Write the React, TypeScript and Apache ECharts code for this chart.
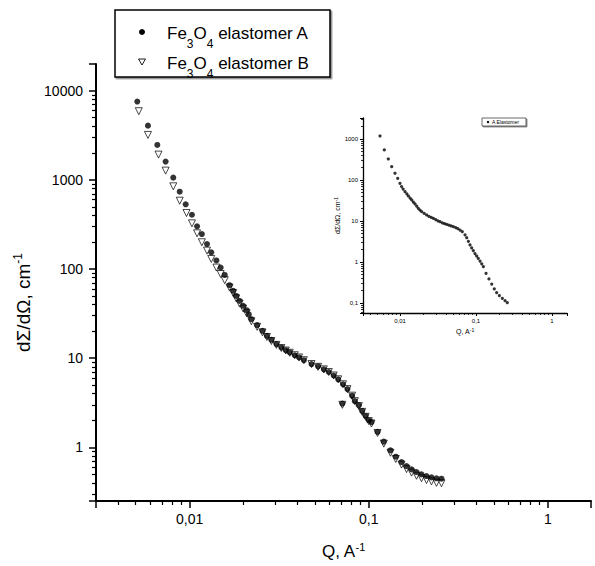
import React, { useEffect, useRef } from 'react';
import * as echarts from 'echarts';

// Main chart, series A (Fe3O4 elastomer A)
const qA = [0.0051, 0.00585, 0.0066, 0.00734, 0.0081, 0.0088, 0.0095, 0.0103, 0.011, 0.0117, 0.0125, 0.0132, 0.0141, 0.0149, 0.0157, 0.0167, 0.0175, 0.0182, 0.019, 0.0199, 0.0208, 0.0214, 0.0221, 0.0238, 0.0255, 0.027, 0.0286, 0.0305, 0.0325, 0.0344, 0.0362, 0.0386, 0.0408, 0.0434, 0.0479, 0.0521, 0.0561, 0.0598, 0.0637, 0.0675, 0.0712, 0.0718, 0.076, 0.0807, 0.0836, 0.088, 0.0919, 0.096, 0.1, 0.1035, 0.1119, 0.1213, 0.1321, 0.1415, 0.1523, 0.1625, 0.1733, 0.1847, 0.1969, 0.21, 0.2239, 0.2388, 0.2546];
const iA = [7580, 4070, 2470, 1606, 1062, 739, 533, 407, 302, 247, 191, 154, 125, 104, 86, 66, 57, 50, 44, 38.7, 34.6, 31, 27.4, 23.5, 20.3, 17.8, 16.1, 14.4, 13.2, 12.3, 11.6, 10.8, 10.2, 9.5, 8.6, 8.1, 7.5, 7.0, 6.4, 5.8, 3.1, 5.1, 4.5, 3.8, 3.3, 2.97, 2.56, 2.25, 2.01, 1.92, 1.49, 1.16, 0.925, 0.786, 0.684, 0.617, 0.566, 0.528, 0.497, 0.476, 0.46, 0.449, 0.445];

// Main chart, series B (Fe3O4 elastomer B)
const qB = [0.0052, 0.00585, 0.0067, 0.00734, 0.0081, 0.0088, 0.0096, 0.0103, 0.011, 0.0117, 0.0125, 0.0132, 0.0141, 0.0149, 0.0157, 0.0167, 0.0175, 0.0182, 0.019, 0.0199, 0.0208, 0.0221, 0.0238, 0.0255, 0.027, 0.0286, 0.0305, 0.0325, 0.0344, 0.0362, 0.0386, 0.0408, 0.0434, 0.0479, 0.0521, 0.0561, 0.0598, 0.0637, 0.0675, 0.0712, 0.0718, 0.076, 0.0807, 0.0836, 0.088, 0.0919, 0.096, 0.1, 0.1035, 0.1119, 0.1213, 0.1321, 0.1415, 0.1523, 0.1625, 0.1733, 0.1847, 0.1969, 0.21, 0.2239, 0.2388, 0.2546];
const iB = [5910, 3200, 1925, 1273, 849, 585, 426, 326, 252, 200, 161, 130, 104, 88, 75, 62, 54, 47, 41, 36, 32, 26, 22.5, 19.5, 17.3, 15.6, 14.1, 13.0, 12.2, 11.5, 10.8, 10.2, 9.5, 8.6, 8.0, 7.5, 7.0, 6.4, 5.8, 3.0, 5.1, 4.5, 3.8, 3.3, 2.9, 2.5, 2.2, 1.97, 1.85, 1.45, 1.10, 0.87, 0.74, 0.64, 0.57, 0.52, 0.48, 0.45, 0.43, 0.415, 0.40, 0.395];

// Inset, series "A Elastomer"
const qIn = [0.00546, 0.00622, 0.00702, 0.00778, 0.00859, 0.00933, 0.01, 0.0105, 0.011, 0.01164, 0.0123, 0.0129, 0.0136, 0.01426, 0.015, 0.01576, 0.0166, 0.0174, 0.0183, 0.0193, 0.0208, 0.0224, 0.024, 0.0257, 0.0275, 0.0295, 0.0315, 0.0336, 0.036, 0.0385, 0.0411, 0.044, 0.047, 0.0503, 0.054, 0.0577, 0.0616, 0.066, 0.0717, 0.0755, 0.0794, 0.0834, 0.0877, 0.0922, 0.097, 0.102, 0.107, 0.113, 0.119, 0.125, 0.1355, 0.148, 0.161, 0.174, 0.187, 0.203, 0.222, 0.241, 0.258];
const iIn = [1183, 540, 325, 211, 146, 110, 83, 69, 60, 52, 46, 40.7, 36, 32.5, 29, 26, 23, 20.4, 18.5, 16.9, 15.3, 14.0, 13.0, 12.3, 11.6, 10.8, 10.1, 9.6, 9.0, 8.6, 8.3, 7.9, 7.6, 7.3, 6.9, 6.5, 6.0, 5.5, 4.6, 3.9, 3.2, 2.6, 2.2, 1.89, 1.6, 1.4, 1.22, 1.05, 0.9, 0.77, 0.53, 0.385, 0.29, 0.22, 0.178, 0.151, 0.13, 0.114, 0.102];

const legendNames = ['Fe3O4 elastomer A', 'Fe3O4 elastomer B'];
const insetLegendName = 'A Elastomer';

const FONT = '"Liberation Sans", Arial, Helvetica, sans-serif';
const comma = (v: number) => String(v).replace('.', ',');

export default function App() {
  const ref = useRef<HTMLDivElement>(null);
  useEffect(() => {
    if (!ref.current) return;
    const chart = echarts.init(ref.current, undefined, { renderer: 'svg' });

    const mainAxisCommon = {
      axisLine: { lineStyle: { color: '#000', width: 2 } },
      axisTick: { length: 7, lineStyle: { color: '#000', width: 1.5 } },
      minorTick: { show: true, splitNumber: 9, length: 4, lineStyle: { color: '#000', width: 1.2 } },
      splitLine: { show: false },
      minorSplitLine: { show: false },
    };
    const insetAxisCommon = {
      axisLine: { lineStyle: { color: '#000', width: 1.3 } },
      axisTick: { length: 3, lineStyle: { color: '#000', width: 1 } },
      minorTick: { show: true, splitNumber: 9, length: 2, lineStyle: { color: '#000', width: 0.8 } },
      splitLine: { show: false },
      minorSplitLine: { show: false },
    };

    const legendRich = {
      a: { fontSize: 17, lineHeight: 34, fontFamily: FONT },
      s: { fontSize: 12, lineHeight: 12, verticalAlign: 'bottom', fontFamily: FONT },
    };

    const option: any = {
      animation: false,
      backgroundColor: '#fff',
      textStyle: { fontFamily: FONT },
      grid: [
        { left: 96, top: 64, width: 495, height: 437 },
        { left: 363, top: 118, width: 204, height: 195 },
      ],
      xAxis: [
        {
          gridIndex: 0, type: 'log', logBase: 10, min: 0.003, max: 1.74,
          ...mainAxisCommon,
          axisLabel: { fontSize: 14, color: '#000', margin: 11, fontFamily: FONT, showMinLabel: false, showMaxLabel: false, formatter: comma },
          name: '{a|Q, A}{s|-1}', nameLocation: 'middle', nameGap: 40,
          nameTextStyle: { color: '#000', fontFamily: FONT, rich: { a: { fontSize: 17, lineHeight: 20, fontFamily: FONT }, s: { fontSize: 11, lineHeight: 10, verticalAlign: 'top', fontFamily: FONT } } },
        },
        {
          gridIndex: 1, type: 'log', logBase: 10, min: 0.00326, max: 1.575,
          ...insetAxisCommon,
          axisLabel: { fontSize: 6, color: '#000', margin: 5, fontFamily: FONT, showMinLabel: false, showMaxLabel: false, formatter: comma },
          name: '{a|Q, A}{s|-1}', nameLocation: 'middle', nameGap: 14,
          nameTextStyle: { color: '#000', fontFamily: FONT, rich: { a: { fontSize: 7, lineHeight: 8, fontFamily: FONT }, s: { fontSize: 5, lineHeight: 4, verticalAlign: 'top', fontFamily: FONT } } },
        },
      ],
      yAxis: [
        {
          gridIndex: 0, type: 'log', logBase: 10, min: 0.25, max: 20000,
          ...mainAxisCommon,
          axisLabel: { fontSize: 14, color: '#000', margin: 13, fontFamily: FONT, showMinLabel: false, showMaxLabel: false, formatter: comma },
          name: '{a|dΣ/dΩ, cm}{s|-1}', nameLocation: 'middle', nameGap: 62,
          nameTextStyle: { color: '#000', fontFamily: FONT, padding: [0, 40, 0, 0], rich: { a: { fontSize: 19, lineHeight: 22, fontFamily: FONT }, s: { fontSize: 12, lineHeight: 10, verticalAlign: 'top', fontFamily: FONT } } },
        },
        {
          gridIndex: 1, type: 'log', logBase: 10, min: 0.057, max: 3250,
          ...insetAxisCommon,
          axisLabel: { fontSize: 6, color: '#000', margin: 5, fontFamily: FONT, showMinLabel: false, showMaxLabel: false, formatter: comma },
          name: '{a|dΣ/dΩ, cm}{s|-1}', nameLocation: 'middle', nameGap: 20,
          nameTextStyle: { color: '#000', fontFamily: FONT, rich: { a: { fontSize: 7, lineHeight: 8, fontFamily: FONT }, s: { fontSize: 5, lineHeight: 4, verticalAlign: 'top', fontFamily: FONT } } },
        },
      ],
      series: [
        {
          name: legendNames[0], type: 'scatter', xAxisIndex: 0, yAxisIndex: 0,
          symbol: 'circle', symbolSize: 6,
          itemStyle: { color: '#000' },
          data: qA.map((q, i) => [q, iA[i]]),
        },
        {
          name: legendNames[1], type: 'scatter', xAxisIndex: 0, yAxisIndex: 0,
          symbol: 'triangle', symbolRotate: 180, symbolSize: 7,
          itemStyle: { color: 'rgba(255,255,255,0)', borderColor: '#000', borderWidth: 0.9 },
          data: qB.map((q, i) => [q, iB[i]]),
        },
        {
          name: insetLegendName, type: 'scatter', xAxisIndex: 1, yAxisIndex: 1,
          symbol: 'circle', symbolSize: 3.2,
          itemStyle: { color: '#000' },
          data: qIn.map((q, i) => [q, iIn[i]]),
        },
      ],
      graphic: [
        {
          type: 'rect', shape: { x: 115, y: 10, width: 215, height: 67 },
          style: { fill: '#fff', stroke: '#000', lineWidth: 1.5, shadowColor: 'rgba(0,0,0,0.45)', shadowOffsetX: 1.5, shadowOffsetY: 1.5, shadowBlur: 0 },
          z: 10,
        },
        { type: 'circle', shape: { cx: 142, cy: 32, r: 3 }, style: { fill: '#000' }, z: 11 },
        {
          type: 'polygon', shape: { points: [[138.5, 59], [145.5, 59], [142, 65]] },
          style: { fill: '#fff', stroke: '#000', lineWidth: 0.9 }, z: 11,
        },
        {
          type: 'text', x: 167, y: 33, z: 11,
          style: { text: '{a|Fe}{s|3}{a|O}{s|4}{a| elastomer A}', verticalAlign: 'middle', fill: '#000', fontFamily: FONT, rich: legendRich },
        },
        {
          type: 'text', x: 167, y: 63, z: 11,
          style: { text: '{a|Fe}{s|3}{a|O}{s|4}{a| elastomer B}', verticalAlign: 'middle', fill: '#000', fontFamily: FONT, rich: legendRich },
        },
        {
          type: 'rect', shape: { x: 482, y: 118, width: 44, height: 8 },
          style: { fill: '#fff', stroke: '#444', lineWidth: 0.8, shadowColor: 'rgba(0,0,0,0.5)', shadowOffsetX: 1, shadowOffsetY: 1, shadowBlur: 0 },
          z: 10,
        },
        { type: 'circle', shape: { cx: 488, cy: 122, r: 1.2 }, style: { fill: '#000' }, z: 11 },
        {
          type: 'text', x: 492, y: 122, z: 11,
          style: { text: insetLegendName, fontSize: 5, fill: '#000', verticalAlign: 'middle', fontFamily: FONT },
        },
      ],
    };
    chart.setOption(option);
    return () => chart.dispose();
  }, []);
  return <div ref={ref} style={{ position: 'fixed', left: 0, top: 0, width: 595, height: 566, background: '#fff' }} />;
}
